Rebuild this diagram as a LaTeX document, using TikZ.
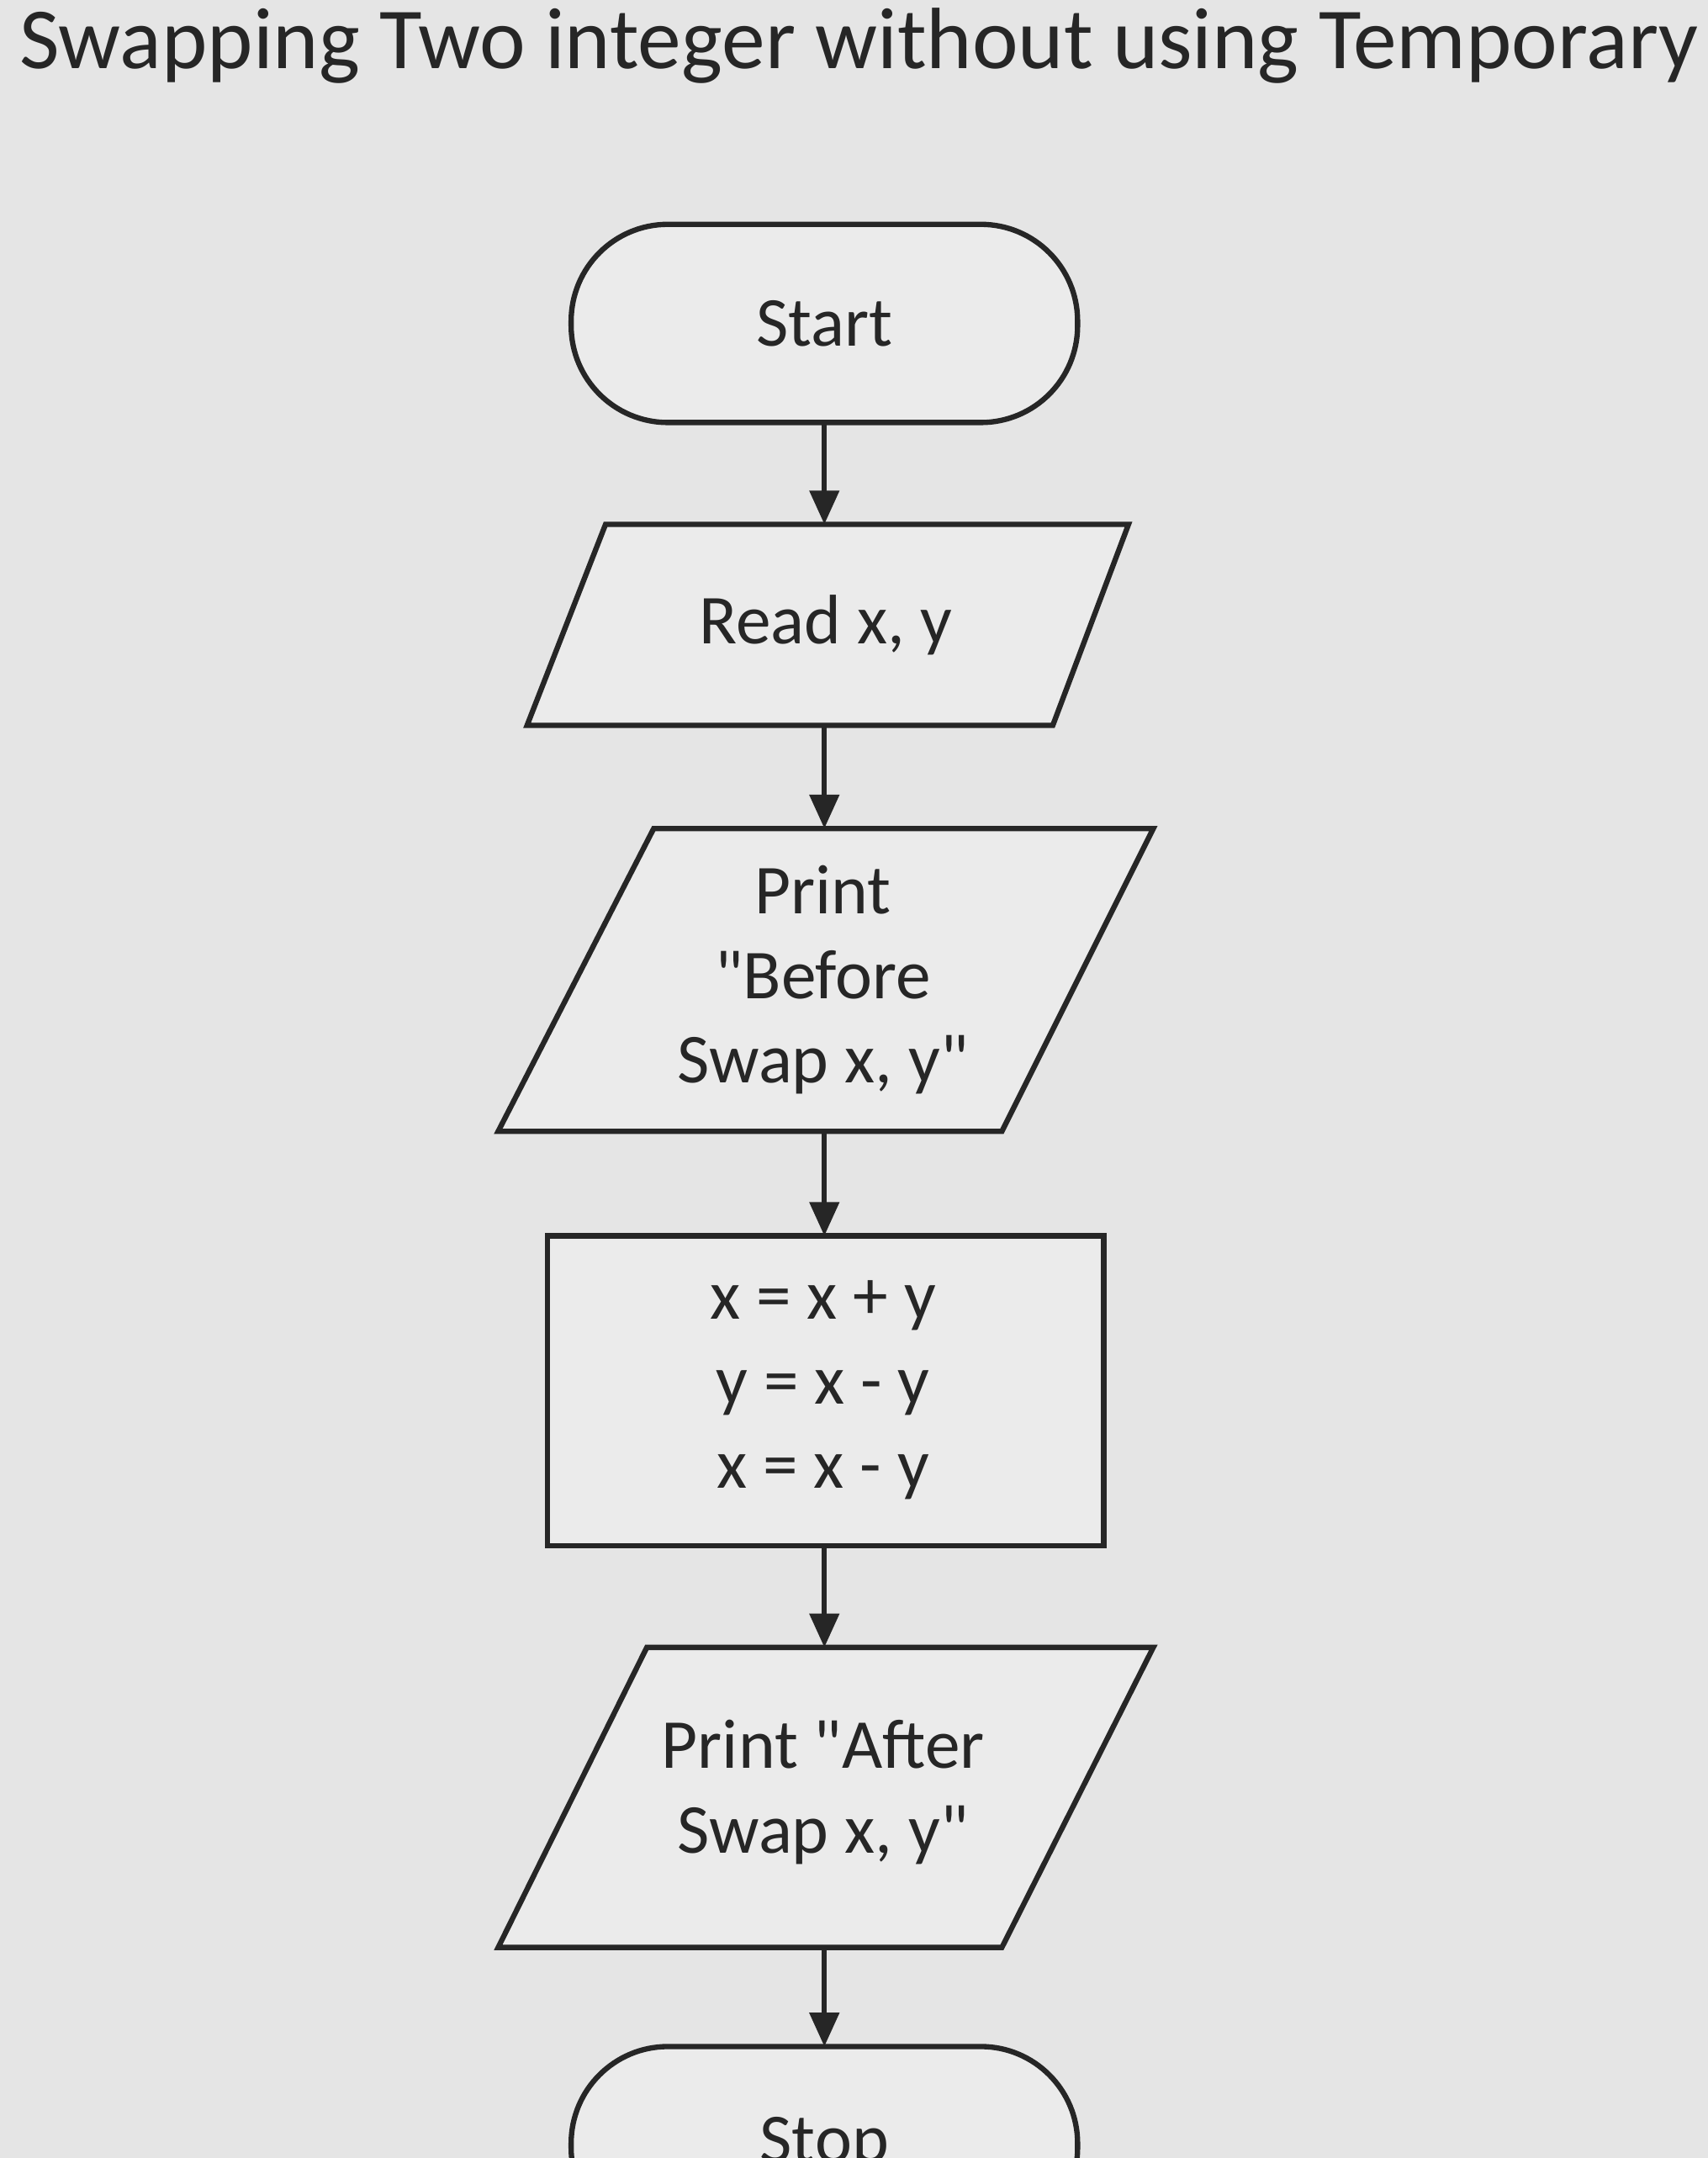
\documentclass[tikz,border=0pt]{standalone}
\usepackage{fontspec}
\setmainfont{Carlito}
\usetikzlibrary{arrows.meta}
\begin{document}
\begin{tikzpicture}[x=0.02cm,y=-0.02cm,
  shp/.style={draw=black!85,line width=2.2pt,fill=black!8},
  lbl/.style={font=\fontsize{29}{35}\selectfont,align=center,text=black!85},
  arr/.style={draw=black!85,line width=2.2pt,-{Triangle[length=14pt,width=12pt]}}]
\useasboundingbox (0,0) rectangle (1241,1568);
\clip (0,0) rectangle (1241,1568);
\fill[black!10] (0,0) rectangle (1241,1568);
\node[anchor=west,font=\fontsize{36}{40}\selectfont,text=black!85] (title) at (8,33) {Swapping Two integer without using Temporary};
% Start
\draw[shp,rounded corners=40pt] (415,163) rectangle (783,307);
\node[lbl] (start) at (599,235) {Start};
\coordinate (startb) at (599,307);
% Read
\draw[shp] (440,381) -- (820,381) -- (765,527) -- (383,527) -- cycle;
\node[lbl] (read) at (600,454) {Read x, y};
\coordinate (readt) at (599,381); \coordinate (readb) at (599,527);
% Print before
\draw[shp] (475,602) -- (838,602) -- (728,822) -- (362,822) -- cycle;
\node[lbl] (pb) at (598,712) {Print\\\textquotedbl Before\\Swap x, y\textquotedbl};
\coordinate (pbt) at (599,602); \coordinate (pbb) at (599,822);
% process
\draw[shp] (398,898) rectangle (802,1123);
\node[lbl] (proc) at (598,1010) {x = x + y\\y = x - y\\x = x - y};
\coordinate (proct) at (599,898); \coordinate (procb) at (599,1123);
% Print after
\draw[shp] (470,1197) -- (838,1197) -- (728,1415) -- (362,1415) -- cycle;
\node[lbl] (pa) at (598,1302) {Print \textquotedbl After\\Swap x, y\textquotedbl};
\coordinate (pat) at (599,1197); \coordinate (pab) at (599,1415);
% Stop
\draw[shp,rounded corners=40pt] (415,1487) rectangle (783,1631);
\node[lbl] (stop) at (599,1559) {Stop};
\coordinate (stopt) at (599,1487);
\draw[arr] (startb) -- (readt);
\draw[arr] (readb) -- (pbt);
\draw[arr] (pbb) -- (proct);
\draw[arr] (procb) -- (pat);
\draw[arr] (pab) -- (stopt);
\end{tikzpicture}
\end{document}
